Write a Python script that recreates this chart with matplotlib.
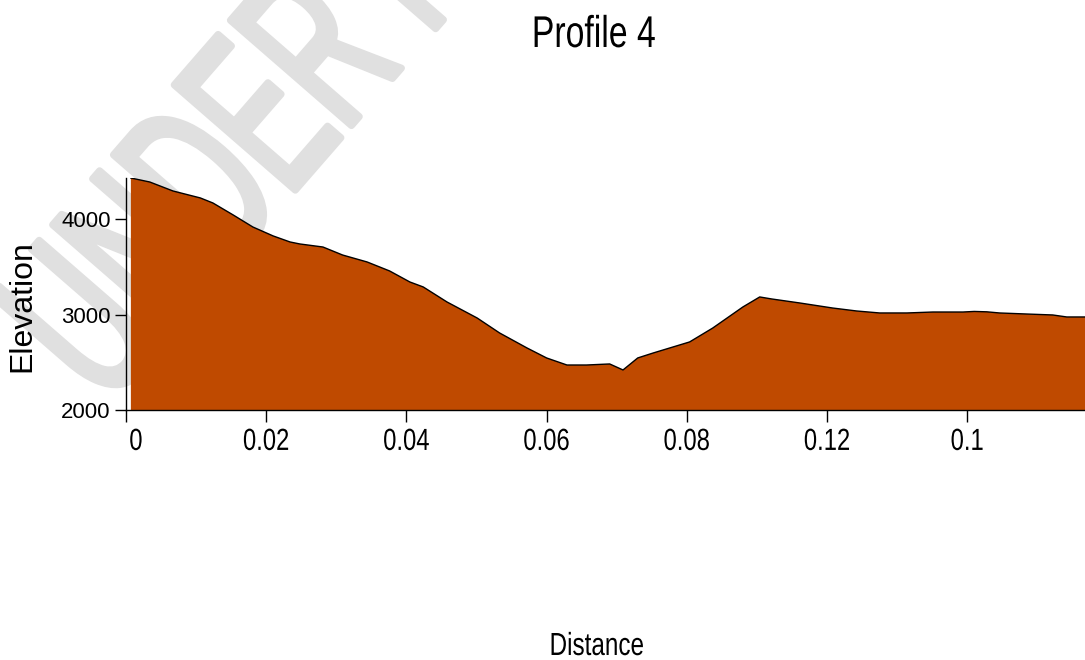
import matplotlib
matplotlib.use("Agg")
import matplotlib.pyplot as plt
from matplotlib import patheffects
from matplotlib.transforms import Affine2D, ScaledTranslation

# Profile data (distance, elevation)
distance = [0.0007, 0.0034, 0.0067, 0.0106, 0.0124, 0.0153, 0.0181, 0.0210, 0.0234,
            0.0248, 0.0281, 0.0309, 0.0344, 0.0376, 0.0405, 0.0424, 0.0458, 0.0501,
            0.0533, 0.0572, 0.0600, 0.0629, 0.0657, 0.0690, 0.0709, 0.0730, 0.0752,
            0.0804, 0.0837, 0.0880, 0.0904, 0.0921, 0.0961, 0.1008, 0.1042, 0.1075,
            0.1114, 0.1151, 0.1194, 0.1210, 0.1228, 0.1246, 0.1285, 0.1322, 0.1342,
            0.1368]
elevation = [4434, 4392, 4298, 4225, 4172, 4046, 3920, 3826, 3763,
             3742, 3710, 3626, 3553, 3459, 3343, 3291, 3133, 2965,
             2808, 2651, 2546, 2472, 2472, 2483, 2420, 2546, 2598,
             2714, 2860, 3081, 3186, 3165, 3123, 3070, 3039, 3018,
             3018, 3028, 3028, 3034, 3030, 3018, 3007, 2997, 2976,
             2976]

x_ticks = [0, 0.02, 0.04, 0.06, 0.08, 0.10, 0.12]
x_labels = ["0", "0.02", "0.04", "0.06", "0.08", "0.12", "0.1"]
y_ticks = [2000, 3000, 4000]
base = 2000

regular = ["Liberation Sans", "DejaVu Sans"]


class Narrow(patheffects.AbstractPathEffect):
    # no narrow font installed -> squeeze the glyphs along the baseline
    def __init__(self, sx=0.78, lw=0, center=True):
        super().__init__()
        self.sx = sx
        self.lw = lw
        self.center = center

    def draw_path(self, renderer, gc, tpath, affine, rgbFace=None):
        cx = 0
        if self.center:
            ext = tpath.get_extents()
            cx = 0.5 * (ext.x0 + ext.x1)
        pre = Affine2D().translate(-cx, 0).scale(self.sx, 1).translate(cx, 0)
        gc0 = renderer.new_gc()
        gc0.copy_properties(gc)
        if self.lw:
            gc0.set_linewidth(self.lw)
            gc0.set_foreground(rgbFace)
            gc0.set_joinstyle("round")
        renderer.draw_path(gc0, tpath, pre + affine, rgbFace)
        gc0.restore()


fig = plt.figure(figsize=(10.85, 6.6), dpi=100)

# watermark behind everything
fig.text(0.0977, 0.3818, "UNDER REVIEW", rotation=49, rotation_mode="anchor",
         fontsize=168, color="#e0e0e0", family=regular, zorder=0,
         path_effects=[Narrow(0.55, lw=5, center=False)])

ax = fig.add_axes([0.1161, 0.3788, 0.8839, 0.3515])
ax.set_zorder(1)
ax.patch.set_alpha(0)
ax.fill_between(distance, elevation, base, facecolor="#bf4a00", linewidth=0)
ax.plot(distance, elevation, color="black", linewidth=1.0)

ax.set_xlim(0, 0.1368)
ax.set_ylim(base, 4434)

for s in ["top", "right"]:
    ax.spines[s].set_visible(False)
ax.spines["left"].set_linewidth(1.0)
ax.spines["bottom"].set_linewidth(1.0)

ax.set_xticks(x_ticks)
ax.set_xticklabels(x_labels, family=regular, fontsize=22,
                   path_effects=[Narrow(0.78)])
ax.set_yticks(y_ticks)
ax.set_yticklabels([str(v) for v in y_ticks], family=regular, fontsize=16)
ax.tick_params(axis="x", direction="out", length=8.6, width=1, pad=3.6)
ax.tick_params(axis="y", direction="out", length=8, width=1, pad=3)

# the "0" label sits a bit right of its tick in the original
lab0 = ax.get_xticklabels()[0]
lab0.set_transform(lab0.get_transform() + ScaledTranslation(0.10, 0, fig.dpi_scale_trans))

fig.text(0.547, 0.9288, "Profile 4", ha="center", va="baseline",
         family=regular, fontsize=32, path_effects=[Narrow(0.76)])
fig.text(0.550, 0.0076, "Distance", ha="center", va="baseline",
         family=regular, fontsize=23, path_effects=[Narrow(0.76)])
fig.text(0.0203, 0.536, "Elevation", ha="center", va="center", rotation=90,
         family=regular, fontsize=23)

fig.savefig("out.png", dpi=100)
